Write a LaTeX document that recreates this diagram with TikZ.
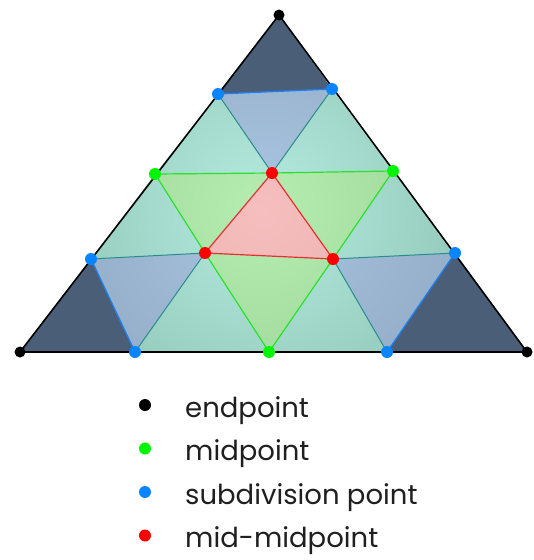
\documentclass[tikz,border=0pt]{standalone}
\usepackage{fontspec}
\setmainfont{Poppins}
\definecolor{cdark}{HTML}{4A5E78}
\definecolor{cblue}{HTML}{8298B2}
\definecolor{cbluel}{HTML}{AAC6E2}
\definecolor{cteal}{HTML}{78AE9C}
\definecolor{ctealL}{HTML}{B6ECE0}
\definecolor{cgreen}{HTML}{88C084}
\definecolor{cgreenL}{HTML}{B6EEB2}
\definecolor{cpink}{HTML}{DE9E9E}
\definecolor{cpinkL}{HTML}{F6BEBE}
\definecolor{dblue}{HTML}{0A84FF}
\definecolor{dgreen}{HTML}{00F500}
\definecolor{dred}{HTML}{FF0000}
\definecolor{lteal}{HTML}{2A8C8C}
\definecolor{lblue}{HTML}{1E80F0}
\definecolor{lgreen}{HTML}{2AE02A}
\definecolor{lred}{HTML}{E43030}
\newcommand{\shadetri}[5]{\begin{scope}\clip (#3)--(#4)--(#5)--cycle;
  \shade[inner color=#2, outer color=#1] (262,210) circle (380);\end{scope}}
\begin{document}
\begin{tikzpicture}[x=1pt,y=-1pt,
  dotnode/.style={circle,inner sep=0pt,minimum size=12pt},
  enddot/.style={dotnode,fill=black,minimum size=11pt},
  middot/.style={dotnode,fill=dgreen},
  subdot/.style={dotnode,fill=dblue},
  mmdot/.style={dotnode,fill=dred},
  outline/.style={line width=1.6pt,black,line join=round},
  blueline/.style={line width=1.3pt,lblue},
  tealline/.style={line width=1pt,lteal},
  greenline/.style={line width=1.2pt,lgreen},
  redline/.style={line width=1.2pt,lred},
  legtext/.style={anchor=base west,inner sep=0pt,font=\fontsize{27.5}{30}\selectfont,text=black!88}]
\useasboundingbox (0,0) rectangle (534,560);
% points
\coordinate (T) at (279,15);
\coordinate (L) at (20,352);
\coordinate (R) at (527,352);
\coordinate (B1) at (218,94);
\coordinate (B2) at (332,89);
\coordinate (B3) at (91,259);
\coordinate (B4) at (455,253);
\coordinate (B5) at (135,352);
\coordinate (B6) at (387,352);
\coordinate (G1) at (155,174);
\coordinate (G2) at (393,171);
\coordinate (G3) at (269,352);
\coordinate (M1) at (272,173);
\coordinate (M2) at (205,253);
\coordinate (M3) at (333,259);
% corner triangles
\fill[cdark] (T)--(B1)--(B2)--cycle;
\fill[cdark] (L)--(B3)--(B5)--cycle;
\fill[cdark] (R)--(B4)--(B6)--cycle;
% blue triangles
\shadetri{cblue}{cbluel}{B1}{B2}{M1}
\shadetri{cblue}{cbluel}{B3}{B5}{M2}
\shadetri{cblue}{cbluel}{B4}{B6}{M3}
% teal triangles
\shadetri{cteal}{ctealL}{B1}{G1}{M1}
\shadetri{cteal}{ctealL}{B2}{G2}{M1}
\shadetri{cteal}{ctealL}{G1}{B3}{M2}
\shadetri{cteal}{ctealL}{B5}{G3}{M2}
\shadetri{cteal}{ctealL}{G3}{B6}{M3}
\shadetri{cteal}{ctealL}{B4}{G2}{M3}
% green triangles
\shadetri{cgreen}{cgreenL}{G1}{M1}{M2}
\shadetri{cgreen}{cgreenL}{G2}{M1}{M3}
\shadetri{cgreen}{cgreenL}{G3}{M2}{M3}
% centre
\shadetri{cpink}{cpinkL}{M1}{M2}{M3}
% lines
\draw[tealline] (B1)--(M1)--(B2);
\draw[tealline] (B3)--(M2)--(B5);
\draw[tealline] (B6)--(M3)--(B4);
\draw[blueline] (B1)--(B2);
\draw[blueline] (B3)--(B5);
\draw[blueline] (B4)--(B6);
\draw[greenline] (G1)--(M1)--(G2)--(M3)--(G3)--(M2)--cycle;
\draw[redline] (M1)--(M2)--(M3)--cycle;
\draw[outline] (T)--(L)--(R)--cycle;
% dots
\node[enddot] (dT) at (T) {};
\node[enddot] (dL) at (L) {};
\node[enddot] (dR) at (R) {};
\node[subdot] (dB1) at (B1) {};
\node[subdot] (dB2) at (B2) {};
\node[subdot] (dB3) at (B3) {};
\node[subdot] (dB4) at (B4) {};
\node[subdot] (dB5) at (B5) {};
\node[subdot] (dB6) at (B6) {};
\node[middot] (dG1) at (G1) {};
\node[middot] (dG2) at (G2) {};
\node[middot] (dG3) at (G3) {};
\node[mmdot] (dM1) at (M1) {};
\node[mmdot] (dM2) at (M2) {};
\node[mmdot] (dM3) at (M3) {};
% legend
\node[enddot,minimum size=12pt] (kE) at (145,405) {};
\node[middot] (kG) at (145,448.5) {};
\node[subdot] (kB) at (145,492) {};
\node[mmdot] (kM) at (145,535.5) {};
\node[legtext] (tE) at (185,417) {endpoint};
\node[legtext] (tG) at (185,460.5) {midpoint};
\node[legtext] (tB) at (185,504) {subdivision point};
\node[legtext] (tM) at (185,547) {mid-midpoint};
\end{tikzpicture}
\end{document}
